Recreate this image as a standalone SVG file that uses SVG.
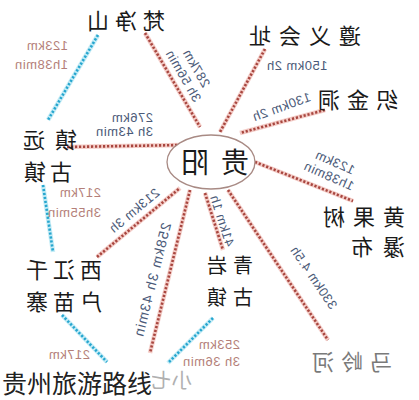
<svg xmlns="http://www.w3.org/2000/svg" width="419" height="400" viewBox="0 0 419 400">
<style>
.halo-r{stroke:#f4cdc8;stroke-width:4.5;fill:none}
.dot-r{stroke:#a8463f;stroke-width:2.6;stroke-dasharray:2.2 1.8;fill:none}
.halo-b{stroke:#c4ecf6;stroke-width:4.5;fill:none}
.dot-b{stroke:#27a6cf;stroke-width:2.6;stroke-dasharray:2.2 1.8;fill:none}
.nd{font-family:"Noto Sans CJK SC","Noto Sans CJK JP",sans-serif;font-size:22px;fill:#1a1a1a}
.lb{font-family:"Liberation Sans",Arial,sans-serif;font-size:13px;fill:#4b5a78;letter-spacing:0.5px}
.lp{font-family:"Liberation Sans",Arial,sans-serif;font-size:13px;fill:#b47f79;letter-spacing:0.5px}
</style>
<rect width="419" height="400" fill="#ffffff"/>
<g transform="translate(419,0) scale(-1,1)">
<g id="connectors">
<g class="red">
<path class="halo-r" d="M274,33 L219,127 M154,49 L199,132 M94,110 L179,133 M164,162 L66,201 M352,147 L237,145 M322,257 L239,188 M229,190 L269,353 M214,193 L196,250 M191,190 L91,340"/>
<path class="dot-r" d="M274,33 L219,127 M154,49 L199,132 M94,110 L179,133 M164,162 L66,201 M352,147 L237,145 M322,257 L239,188 M229,190 L269,353 M214,193 L196,250 M191,190 L91,340"/>
</g>
<g class="blue">
<path class="halo-b" d="M321,35 L371,120 M376,185 L366,252 M357,315 L312,362 M206,318 L251,363"/>
<path class="dot-b" d="M321,35 L371,120 M376,185 L366,252 M357,315 L312,362 M206,318 L251,363"/>
</g>
</g>
<g id="labels">
<text class="lp" x="351" y="50">123km</text>
<text class="lp" x="351" y="69">1h38min</text>
<g transform="translate(229,72) rotate(-60)"><text class="lb" x="0" y="-3" text-anchor="middle">287km</text><text class="lb" x="0" y="12" text-anchor="middle">3h 56min</text></g>
<text class="lb" x="122" y="70" text-anchor="middle">150km 2h</text>
<text class="lb" transform="translate(136,111) rotate(20)" text-anchor="middle">130km 2h</text>
<text class="lb" x="266" y="122">276km</text>
<text class="lb" x="266" y="136">3h 43min</text>
<g transform="translate(87,169) rotate(-24)"><text class="lb" x="0" y="-3" text-anchor="middle">123km</text><text class="lb" x="0" y="12" text-anchor="middle">1h38min</text></g>
<text class="lp" x="318" y="197">217km</text>
<text class="lp" x="318" y="217">3h55min</text>
<text class="lb" transform="translate(282,214) rotate(40)" text-anchor="middle">213km 3h</text>
<text class="lb" transform="translate(262,281) rotate(76)" text-anchor="middle" style="font-size:14px;letter-spacing:1px">258km 3h 43min</text>
<text class="lb" transform="translate(201,222) rotate(-72)" text-anchor="middle">41km 1h</text>
<text class="lb" transform="translate(109,280) rotate(-56)" text-anchor="middle">330km 4.5h</text>
<text class="lp" x="179" y="349">253km</text>
<text class="lp" x="179" y="366">3h 36min</text>
<text class="lp" x="329" y="359">217km</text>
</g>
<g id="guiyang">
<ellipse cx="208" cy="162" rx="44" ry="27" fill="#ffffff" stroke="#a88a84" stroke-width="1.3"/>
<text class="nd" x="170" y="173" style="font-size:28px;letter-spacing:12px">贵阳</text>
</g>
<g id="fanjingshan"><text class="nd" x="254" y="29" style="letter-spacing:6px">梵净山</text></g>
<g id="zunyi"><text class="nd" x="58" y="44" style="letter-spacing:8px">遵义会址</text></g>
<g id="zhijindong"><text class="nd" x="21" y="108" style="letter-spacing:7px">织金洞</text></g>
<g id="huangguoshu"><text class="nd" x="14" y="225" style="letter-spacing:8px">黄果树</text><text class="nd" x="14" y="255" style="letter-spacing:10px">瀑布</text></g>
<g id="zhenyuan"><text class="nd" x="342" y="148" style="letter-spacing:10px">镇远</text><text class="nd" x="347" y="180" style="letter-spacing:4px">古镇</text></g>
<g id="xijiang"><text class="nd" x="317" y="278" style="letter-spacing:5px">西江千</text><text class="nd" x="317" y="310" style="letter-spacing:5px">户苗寨</text></g>
<g id="qingyan"><text class="nd" x="166" y="273" style="font-size:20px;letter-spacing:6px">青岩</text><text class="nd" x="166" y="305" style="font-size:20px;letter-spacing:6px">古镇</text></g>
<g id="malinghe"><text class="nd" x="27" y="370" style="fill:#7a7a7a;letter-spacing:7px">马岭河</text></g>
<g id="xiaoqikong"><text class="nd" x="227" y="388" style="font-size:20px;fill:#b0b0b0;letter-spacing:1px">小七</text></g>
</g>
<g id="title">
<rect x="0" y="368" width="152" height="32" fill="#ffffff"/>
<text x="2" y="393" style="font-family:'Noto Sans CJK SC',sans-serif;font-size:25px;fill:#222">贵州旅游路线</text>
</g>
</svg>
